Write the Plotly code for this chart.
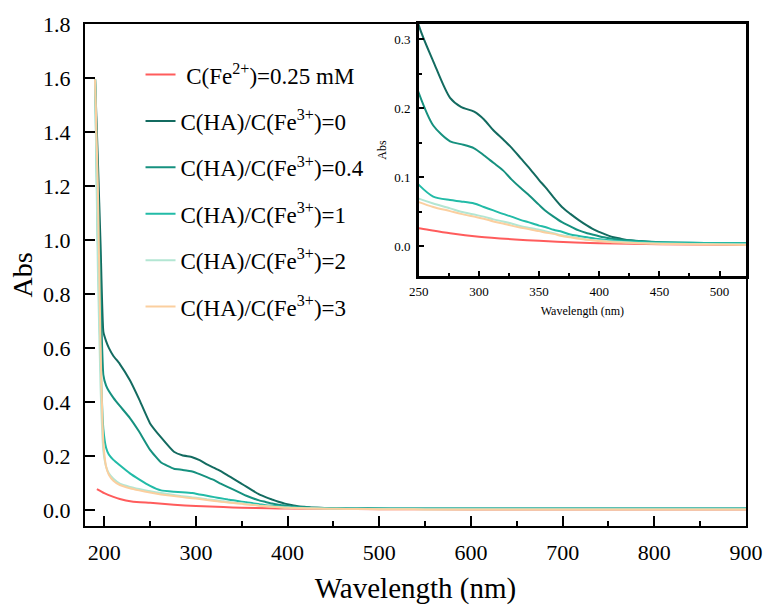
import plotly.graph_objects as go

# ---------------- data ----------------
wavelength = [190, 193, 196, 199, 202, 205, 210, 217, 228, 238, 250, 262, 276, 285, 296, 304, 312,
              320, 327, 335, 341, 350, 355, 362, 369, 376, 383, 390, 397, 404, 411, 418, 425,
              440, 453, 475, 500, 525, 550, 600, 700, 800, 900]

abs_ha0 = [1.595, 1.30, 0.98, 0.66, 0.625, 0.60, 0.57, 0.54, 0.48, 0.41, 0.32, 0.268, 0.215, 0.202,
           0.195, 0.184, 0.168, 0.155, 0.143, 0.127, 0.115, 0.096, 0.086, 0.071, 0.057, 0.047,
           0.038, 0.030, 0.023, 0.018, 0.0135, 0.011, 0.0087, 0.0065, 0.0053, 0.0047, 0.0043,
           0.004, 0.004, 0.004, 0.004, 0.004, 0.004]

abs_ha04 = [1.595, 1.20, 0.80, 0.50, 0.46, 0.44, 0.415, 0.385, 0.34, 0.29, 0.222, 0.175, 0.152,
            0.148, 0.142, 0.132, 0.121, 0.110, 0.097, 0.084, 0.075, 0.060, 0.052, 0.043, 0.035,
            0.029, 0.023, 0.019, 0.016, 0.013, 0.011, 0.0095, 0.0087, 0.007, 0.006, 0.005,
            0.0045, 0.004, 0.004, 0.004, 0.004, 0.004, 0.004]

abs_ha1 = [1.595, 1.00, 0.55, 0.30, 0.23, 0.205, 0.185, 0.165, 0.135, 0.113, 0.089, 0.072, 0.067,
           0.065, 0.062, 0.057, 0.052, 0.047, 0.043, 0.038, 0.035, 0.030, 0.028, 0.024, 0.021,
           0.017, 0.015, 0.013, 0.011, 0.0095, 0.0085, 0.0075, 0.007, 0.006, 0.0055, 0.005,
           0.0048, 0.0045, 0.0045, 0.0045, 0.0045, 0.0045, 0.0045]

abs_ha2 = [1.595, 0.90, 0.45, 0.22, 0.16, 0.135, 0.115, 0.097, 0.085, 0.077, 0.069, 0.062, 0.055,
           0.050, 0.046, 0.043, 0.039, 0.036, 0.033, 0.029, 0.027, 0.024, 0.022, 0.019, 0.016,
           0.014, 0.012, 0.010, 0.009, 0.008, 0.007, 0.0062, 0.0055, 0.0045, 0.004, 0.0035,
           0.003, 0.0028, 0.0025, 0.0025, 0.0025, 0.0025, 0.0025]

abs_ha3 = [1.595, 1.20, 0.60, 0.25, 0.16, 0.13, 0.108, 0.092, 0.080, 0.072, 0.064, 0.057, 0.051,
           0.047, 0.043, 0.040, 0.036, 0.033, 0.030, 0.027, 0.025, 0.022, 0.020, 0.018, 0.015,
           0.013, 0.011, 0.0095, 0.008, 0.007, 0.006, 0.0055, 0.005, 0.004, 0.0035, 0.003,
           0.0025, 0.002, 0.0015, 0.0015, 0.0015, 0.0015, 0.0015]

wavelength_fe2 = [192, 200, 210, 217, 230, 250, 276, 300, 330, 350, 380, 400, 450, 500, 600, 700, 800, 900]
abs_fe2 = [0.077, 0.062, 0.048, 0.040, 0.031, 0.026, 0.019, 0.014, 0.010, 0.008, 0.0055, 0.0045,
           0.003, 0.0022, 0.0015, 0.001, 0.001, 0.001]

names = ["&nbsp;C(Fe<sup>2+</sup>)=0.25 mM",
         "C(HA)/C(Fe<sup>3+</sup>)=0",
         "C(HA)/C(Fe<sup>3+</sup>)=0.4",
         "C(HA)/C(Fe<sup>3+</sup>)=1",
         "C(HA)/C(Fe<sup>3+</sup>)=2",
         "C(HA)/C(Fe<sup>3+</sup>)=3"]
colors = ["#ff5c5c", "#136b60", "#16917f", "#22bba7", "#b3e6d3", "#fbcf9f"]

main_xticks = [200, 300, 400, 500, 600, 700, 800, 900]
inset_xticks = [250, 300, 350, 400, 450, 500]
inset_yticks = [0.0, 0.1, 0.2, 0.3]

series = [(wavelength_fe2, abs_fe2), (wavelength, abs_ha0), (wavelength, abs_ha04),
          (wavelength, abs_ha1), (wavelength, abs_ha2), (wavelength, abs_ha3)]

FONT = '"Liberation Serif", "Times New Roman", serif'

fig = go.Figure()
for i, ((xs, ys), nm, col) in enumerate(zip(series, names, colors)):
    fig.add_trace(go.Scatter(x=xs, y=ys, mode="lines", name=nm, legendgroup=f"g{i}",
                             line=dict(color=col, width=2, shape="spline", smoothing=0.4),
                             xaxis="x", yaxis="y"))
for i, ((xs, ys), nm, col) in enumerate(zip(series, names, colors)):
    fig.add_trace(go.Scatter(x=xs, y=ys, mode="lines", name=nm, showlegend=False,
                             line=dict(color=col, width=2, shape="spline", smoothing=0.8),
                             xaxis="x2", yaxis="y2"))

fig.update_layout(
    width=765, height=605,
    margin=dict(l=85, r=19, t=24, b=79, autoexpand=False),
    paper_bgcolor="white", plot_bgcolor="white",
    font=dict(family=FONT, color="black"),
    hovermode=False,
    showlegend=True,
    legend=dict(x=0.084, y=0.942, xanchor="left", yanchor="top",
                font=dict(family=FONT, size=23, color="black"),
                bgcolor="rgba(0,0,0,0)", tracegroupgap=13.5),
    xaxis=dict(domain=[0, 1], range=[179, 900], tickvals=main_xticks, automargin=False,
               showline=True, linewidth=2, linecolor="black", mirror=True,
               ticks="inside", ticklen=10, tickwidth=2, tickcolor="black",
               minor=dict(dtick=50, tick0=200, ticks="inside", ticklen=5, tickwidth=2, tickcolor="black"),
               showgrid=False, zeroline=False, ticklabelstandoff=6,
               tickfont=dict(family=FONT, size=22),
               title=dict(text="Wavelength (nm)", font=dict(family=FONT, size=29), standoff=18)),
    yaxis=dict(domain=[0, 1], range=[-0.06, 1.8], dtick=0.2, tick0=0, tickformat=".1f", automargin=False,
               showline=True, linewidth=2, linecolor="black", mirror=True,
               ticks="inside", ticklen=10, tickwidth=2, tickcolor="black",
               showgrid=False, zeroline=False, ticklabelstandoff=8,
               tickfont=dict(family=FONT, size=22),
               title=dict(text="Abs", font=dict(family=FONT, size=28), standoff=2)),
    xaxis2=dict(domain=[0.505, 1.0], anchor="y2", range=[250, 522], tickvals=inset_xticks, automargin=False,
                showline=True, linewidth=2.5, linecolor="black", mirror=True,
                ticks="inside", ticklen=5, tickwidth=1.5, tickcolor="black",
                minor=dict(dtick=25, tick0=250, ticks="inside", ticklen=3, tickwidth=1.5, tickcolor="black"),
                showgrid=False, zeroline=False, ticklabelstandoff=2,
                tickfont=dict(family=FONT, size=13),
                title=dict(text="Wavelength (nm)", font=dict(family=FONT, size=12), standoff=9)),
    yaxis2=dict(domain=[0.498, 1.0], anchor="x2", range=[-0.043, 0.322], tickvals=inset_yticks,
                tickformat=".1f", automargin=False,
                showline=True, linewidth=2.5, linecolor="black", mirror=True,
                ticks="inside", ticklen=5, tickwidth=1.5, tickcolor="black",
                minor=dict(dtick=0.05, tick0=0, ticks="inside", ticklen=3, tickwidth=1.5, tickcolor="black"),
                showgrid=False, zeroline=False, ticklabelstandoff=3,
                tickfont=dict(family=FONT, size=13),
                title=dict(text="Abs", font=dict(family=FONT, size=12), standoff=6)),
)

fig.write_html("out.html", config={"displayModeBar": False},
               post_script="document.body.style.margin='0px';")
